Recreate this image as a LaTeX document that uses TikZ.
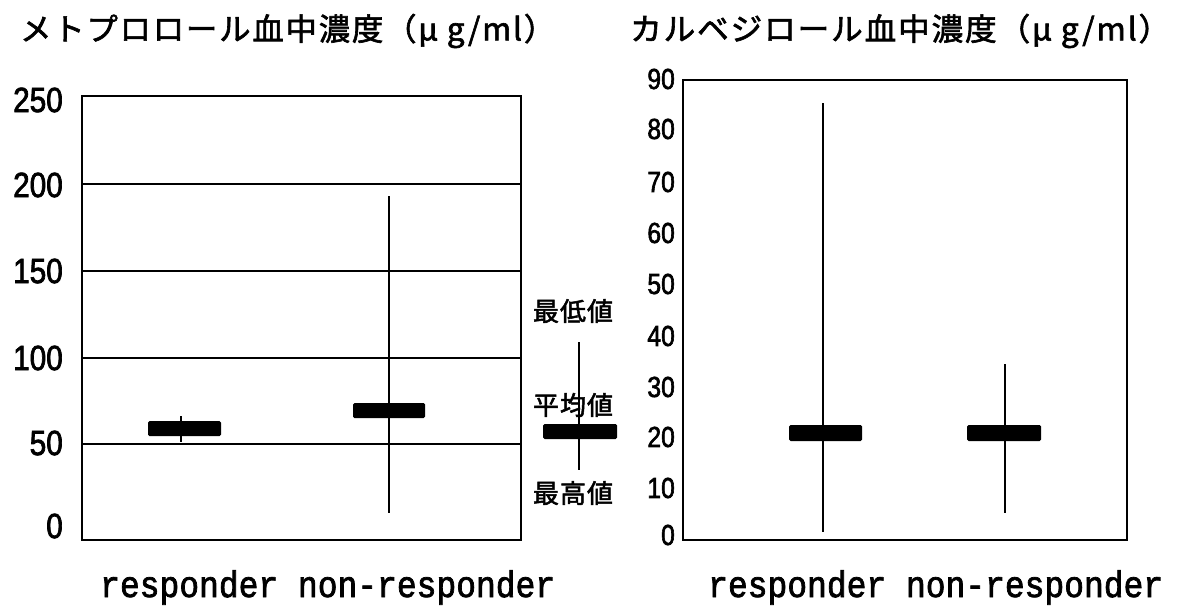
\documentclass[tikz,border=0pt]{standalone}
\usepackage{graphicx}
\usepackage{fontspec}
\newfontfamily\jpsp[LetterSpace=6,FakeBold=2]{Noto Sans CJK JP}
\newfontfamily\jpleg[LetterSpace=4,FakeBold=2]{Noto Sans CJK JP}
\newfontfamily\numf[FakeStretch=0.85,FakeBold=2]{Liberation Sans}
\newfontfamily\monof[FakeStretch=0.92,FakeBold=2]{Liberation Mono}
\newcommand{\fitw}[2]{\resizebox{#1}{\height}{#2}}
\begin{document}
\begin{tikzpicture}[x=1pt,y=-1pt,
  plotframe/.style={draw=black,line width=2.8pt},
  gridline/.style={draw=black,line width=2pt},
  whisk/.style={draw=black,line width=2.4pt},
  meanbar/.style={fill=black,rounded corners=1.5pt},
  ylabL/.style={anchor=east,inner sep=0pt,font=\numf\fontsize{35}{35}\selectfont},
  ylabR/.style={anchor=east,inner sep=0pt,font=\numf\fontsize{29}{29}\selectfont},
  ttl/.style={anchor=west,inner sep=0pt,font=\jpsp\fontsize{31}{31}\selectfont},
  legtxt/.style={anchor=center,inner sep=0pt,font=\jpleg\fontsize{26}{26}\selectfont},
  xlab/.style={anchor=base west,inner sep=0pt,font=\monof\fontsize{37}{37}\selectfont}]
\useasboundingbox (0,0) rectangle (1180,605);
\fill[white] (0,0) rectangle (1180,605);

% titles
\node[ttl] (t1) at (20,31) {\fitw{535pt}{メトプロロール血中濃度（μ g/ml）}};
\node[ttl] (t2) at (630,31) {\fitw{540pt}{カルベジロール血中濃度（μ g/ml）}};

% left plot
\foreach \yy in {184,271,358,444} \draw[gridline] (82,\yy) -- (521,\yy);
\draw[plotframe] (82,96) rectangle (521,540);
\foreach \v/\yy in {250/100,200/185,150/271,100/358,50/443,0/526}
  \node[ylabL] (l\v) at (63,\yy) {\v};

\draw[whisk] (181,416) -- (181,442);
\fill[meanbar] (148,421) rectangle (221,436);
\draw[whisk] (389,196) -- (389,513);
\fill[meanbar] (353,403) rectangle (425,418);

% legend
\node[legtxt] (lmin) at (573,311) {最低値};
\node[legtxt] (lavg) at (573,405) {平均値};
\node[legtxt] (lmax) at (573,493) {最高値};
\draw[whisk] (579,342) -- (579,470);
\fill[meanbar] (543,424) rectangle (617,439);

% right plot
\draw[plotframe] (683,80) rectangle (1127,540);
\foreach \v/\yy in {90/79,80/129,70/182,60/233,50/284,40/336,30/387,20/437,10/488,0/535}
  \node[ylabR] (r\v) at (675,\yy) {\v};

\draw[whisk] (823,103) -- (823,532);
\fill[meanbar] (789,425) rectangle (862,441);
\draw[whisk] (1005,364) -- (1005,513);
\fill[meanbar] (967,425) rectangle (1041,441);

% x labels
\node[xlab] (x1) at (100,597) {\fitw{455pt}{responder non-responder}};
\node[xlab] (x2) at (708,597) {\fitw{455pt}{responder non-responder}};
\end{tikzpicture}
\end{document}
